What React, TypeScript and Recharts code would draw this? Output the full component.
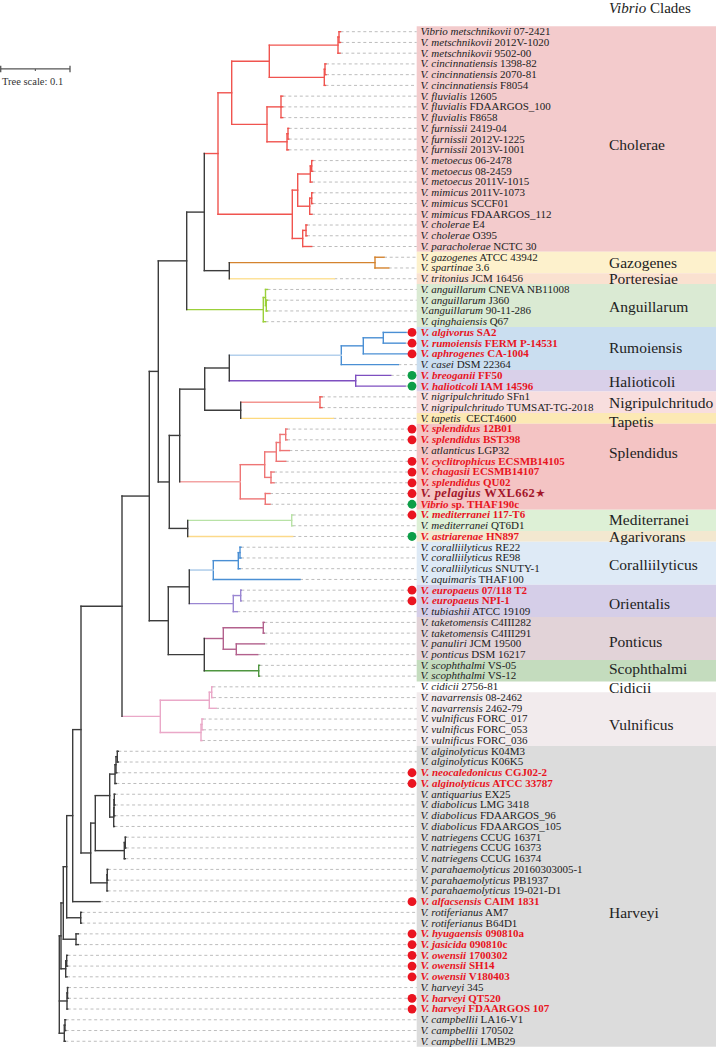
import React from 'react';
import { ComposedChart, XAxis, YAxis, ReferenceLine, ReferenceArea, Scatter } from 'recharts';

const FONT = "'Liberation Serif', 'Times New Roman', Times, serif";

// ---------- leaves (top to bottom) ----------
const LEAF_SPECIES = [
  'Vibrio metschnikovii', 'V. metschnikovii', 'V. metschnikovii', 'V. cincinnatiensis', 'V. cincinnatiensis',
  'V. cincinnatiensis', 'V. fluvialis', 'V. fluvialis', 'V. fluvialis', 'V. furnissii',
  'V. furnissii', 'V. furnissii', 'V. metoecus', 'V. metoecus', 'V. metoecus',
  'V. mimicus', 'V. mimicus', 'V. mimicus', 'V. cholerae', 'V. cholerae',
  'V. paracholerae', 'V. gazogenes', 'V. spartinae', 'V. tritonius', 'V. anguillarum',
  'V. anguillarum', 'V.anguillarum', 'V. qinghaiensis', 'V. algivorus', 'V. rumoiensis',
  'V. aphrogenes', 'V. casei', 'V. breoganii', 'V. halioticoli', 'V. nigripulchritudo',
  'V. nigripulchritudo', 'V. tapetis', 'V. splendidus', 'V. splendidus', 'V. atlanticus',
  'V. cyclitrophicus', 'V. chagasii', 'V. splendidus', 'V. pelagius', 'Vibrio',
  'V. mediterranei', 'V. mediterranei', 'V. astriarenae', 'V. coralliilyticus', 'V. coralliilyticus',
  'V. coralliilyticus', 'V. aquimaris', 'V. europaeus', 'V. europaeus', 'V. tubiashii',
  'V. taketomensis', 'V. taketomensis', 'V. panuliri', 'V. ponticus', 'V. scophthalmi',
  'V. scophthalmi', 'V. cidicii', 'V. navarrensis', 'V. navarrensis', 'V. vulnificus',
  'V. vulnificus', 'V. vulnificus', 'V. alginolyticus', 'V. alginolyticus', 'V. neocaledonicus',
  'V. alginolyticus', 'V. antiquarius', 'V. diabolicus', 'V. diabolicus', 'V. diabolicus',
  'V. natriegens', 'V. natriegens', 'V. natriegens', 'V. parahaemolyticus', 'V. parahaemolyticus',
  'V. parahaemolyticus', 'V. alfacsensis', 'V. rotiferianus', 'V. rotiferianus', 'V. hyugaensis',
  'V. jasicida', 'V. owensii', 'V. owensii', 'V. owensii', 'V. harveyi',
  'V. harveyi', 'V. harveyi', 'V. campbellii', 'V. campbellii', 'V. campbellii',
];
const LEAF_STRAINS = [
  '07-2421', '2012V-1020', '9502-00', '1398-82', '2070-81',
  'F8054', '12605', 'FDAARGOS_100', 'F8658', '2419-04',
  '2012V-1225', '2013V-1001', '06-2478', '08-2459', '2011V-1015',
  '2011V-1073', 'SCCF01', 'FDAARGOS_112', 'E4', 'O395',
  'NCTC 30', 'ATCC 43942', '3.6', 'JCM 16456', 'CNEVA NB11008',
  'J360', '90-11-286', 'Q67', 'SA2', 'FERM P-14531',
  'CA-1004', 'DSM 22364', 'FF50', 'IAM 14596', 'SFn1',
  'TUMSAT-TG-2018', ' CECT4600', '12B01', 'BST398', 'LGP32',
  'ECSMB14105', 'ECSMB14107', 'QU02', 'WXL662', 'sp. THAF190c',
  '117-T6', 'QT6D1', 'HN897', 'RE22', 'RE98',
  'SNUTY-1', 'THAF100', '07/118 T2', 'NPI-1', 'ATCC 19109',
  'C4III282', 'C4III291', 'JCM 19500', 'DSM 16217', 'VS-05',
  'VS-12', '2756-81', '08-2462', '2462-79', 'FORC_017',
  'FORC_053', 'FORC_036', 'K04M3', 'K06K5', 'CGJ02-2',
  'ATCC 33787', 'EX25', 'LMG 3418', 'FDAARGOS_96', 'FDAARGOS_105',
  'CCUG 16371', 'CCUG 16373', 'CCUG 16374', '20160303005-1', 'PB1937',
  '19-021-D1', 'CAIM 1831', 'AM7', 'B64D1', '090810a',
  '090810c', '1700302', 'SH14', 'V180403', '345',
  'QT520', 'FDAARGOS 107', 'LA16-V1', '170502', 'LMB29',
];
const RED_DOT_LEAVES = [28, 29, 30, 37, 38, 40, 41, 42, 43, 45, 52, 53, 69, 70, 81, 84, 85, 86, 87, 88, 90, 91];
const GREEN_DOT_LEAVES = [32, 33, 44, 47];
const STAR_LEAF = 43;

// ---------- clades ----------
const CLADE_NAMES = ['Cholerae', 'Gazogenes', 'Porteresiae', 'Anguillarum', 'Rumoiensis', 'Halioticoli',
  'Nigripulchritudo', 'Tapetis', 'Splendidus', 'Mediterranei', 'Agarivorans', 'Coralliilyticus',
  'Orientalis', 'Ponticus', 'Scophthalmi', 'Cidicii', 'Vulnificus', 'Harveyi'];
const CLADE_FIRST = [0, 21, 23, 24, 28, 32, 34, 36, 37, 45, 47, 48, 52, 55, 59, 61, 62, 67];
const CLADE_LAST = [20, 22, 23, 27, 31, 33, 35, 36, 44, 46, 47, 51, 54, 58, 60, 61, 66, 94];
const CLADE_LABEL_ROW = [10.55, 21.5, 23, 25.6, 29.45, 32.6, 34.5, 36.3, 39.2, 45.4, 47, 49.65, 53.3, 56.8, 59.35, 61.1, 64.55, 82.05];
const CLADE_FILLS = ['#f3cbcc', '#fdf1cc', '#fae1d0', '#daead3', '#cadef0', '#d9d0e9', '#f8dede', '#fce9b4',
  '#f4c4c4', '#ddf0d6', '#f3e8d0', '#deeaf6', '#d5cee8', '#e2d3d8', '#c4dcbe', 'none', '#f2ebed', '#dcdcdc'];

// ---------- branch colours ----------
const BACKBONE = '#3c3c3c';
const CHOL = '#f0544f';
const GAZO = '#d4832e';
const TRIT = '#fde29a';
const ANGU = '#9bd03a';
const RUMO = '#4a8fd4';
const RUMO_EDGE = '#b4d0ec';
const HALIO = '#7e4fc0';
const NIGRI = '#ee5a55';
const NIGRI_EDGE = '#f39590';
const TAPE = '#fdd97e';
const SPLE = '#ee7575';
const SPLE_EDGE = '#f3a3a3';
const MEDI = '#b8e2a6';
const AGAR = '#fcd98a';
const CORA = '#4a8fd4';
const CORA_EDGE = '#a9c9e8';
const ORIE = '#9a86d2';
const PONT = '#b3618d';
const SCOP = '#4f9640';
const VULN = '#eaa8c8';

// ---------- tree (node depth values, scale bar 0.1 = 69.3 units) ----------
type TreeNode = { d: number; leaf?: number; kids?: TreeNode[]; color?: string; edge?: string };
const L = (leaf: number, d: number, color?: string): TreeNode => ({ leaf, d, color });
const N = (d: number, kids: TreeNode[], color?: string, edge?: string): TreeNode => ({ d, kids, color, edge });

const TREE: TreeNode = N(59.3, [
  N(61, [
    N(63.3, [
      N(66.7, [
        N(72.7, [
          N(81, [
            N(122, [
              N(149.3, [
                N(158.3, [
                  N(186.7, [
                    N(204.3, [
                      N(218, [
                        N(231.7, [
                          N(269.3, [
                            N(338, [N(339, [L(0, 340.5), L(1, 340.5)]), L(2, 340)]),
                            N(324.3, [N(325, [L(3, 326), L(4, 326)]), L(5, 325.5)]),
                          ]),
                          N(267, [
                            N(281, [L(6, 282.7), L(7, 282.7), L(8, 282.7)]),
                            N(287, [N(288, [L(9, 288.7), L(10, 288.7)]), L(11, 288.5)]),
                          ]),
                        ]),
                        N(292.3, [
                          N(297.7, [
                            N(310.3, [N(311.7, [L(12, 312.7), L(13, 312.7)]), L(14, 312)]),
                            N(309.7, [N(311.7, [L(15, 312.7), L(16, 312.7)]), L(17, 312)]),
                          ]),
                          N(302.7, [N(306, [L(18, 307), L(19, 307)]), L(20, 311.7)]),
                        ]),
                      ], CHOL),
                      N(229.3, [
                        N(375, [L(21, 384), L(22, 388.7)], GAZO),
                        L(23, 334.3, TRIT),
                      ]),
                    ]),
                    N(263.3, [N(265.5, [L(24, 267.5), N(266.3, [L(25, 267.5), L(26, 267.5)])]), L(27, 265.5)], ANGU),
                  ]),
                  N(169.3, [
                    N(179.7, [
                      N(204.7, [
                        N(229.3, [
                          N(341.3, [N(363.3, [N(383.3, [L(28, 406), L(29, 405)]), L(30, 410)]), L(31, 398.3)], RUMO, RUMO_EDGE),
                          N(355.7, [L(32, 390.7), L(33, 405)], HALIO),
                        ]),
                        N(240.7, [
                          N(320, [L(34, 322), L(35, 322)], NIGRI, NIGRI_EDGE),
                          L(36, 333.3, TAPE),
                        ]),
                      ]),
                      N(240.3, [
                        N(264.7, [
                          N(276.3, [N(280, [N(285.7, [L(37, 287), L(38, 287)]), L(39, 289.3)]), L(40, 285.7)]),
                          N(271, [L(41, 274), L(42, 274)]),
                        ]),
                        N(265.3, [L(43, 270), L(44, 270)]),
                      ], SPLE, SPLE_EDGE),
                    ]),
                    N(187.7, [
                      N(291.7, [L(45, 292.7), L(46, 292.7)], MEDI),
                      L(47, 292.7, AGAR),
                    ]),
                  ]),
                ]),
                N(168.3, [
                  N(189.3, [
                    N(213.3, [N(238.3, [N(240, [L(48, 241), L(49, 241)]), L(50, 240)]), L(51, 300)], CORA, CORA_EDGE),
                    N(233.3, [N(240.7, [L(52, 241.3), L(53, 241.3)]), L(54, 237.3)], ORIE),
                  ]),
                  N(204.3, [
                    N(223.3, [N(263.3, [L(55, 264.3), L(56, 264.3)]), N(236.3, [L(57, 264.3), L(58, 257.7)])], PONT),
                    N(258.7, [L(59, 259.5), L(60, 259.5)], SCOP),
                  ]),
                ]),
              ]),
              N(160.3, [
                N(209.3, [N(211.7, [L(61, 212.5), L(62, 213)]), L(63, 216)]),
                N(201, [N(202, [L(64, 203), L(65, 203)]), L(66, 202)]),
              ], VULN),
            ]),
            N(90.7, [
              N(95.3, [
                N(109.7, [
                  N(115, [N(116, [N(117.3, [L(67, 118.3), L(68, 118.3)]), L(69, 116.8)]), L(70, 116.3)]),
                  N(113.7, [N(114, [N(114.3, [L(71, 115), L(72, 115)]), L(73, 114.8)]), L(74, 114.5)]),
                ]),
                N(124.3, [N(125.3, [L(75, 125.8), L(76, 125.8)]), L(77, 125.3)]),
              ]),
              N(107, [N(107.3, [L(78, 107.8), L(79, 107.8)]), L(80, 107.6)]),
            ]),
          ]),
          L(81, 100),
        ]),
        N(80.7, [L(82, 81.5), L(83, 81.5)]),
      ]),
      N(76, [L(84, 78.3), L(85, 78.3)]),
    ]),
    N(65.7, [N(66.7, [L(86, 67.5), L(87, 67.5)]), L(88, 67)]),
  ]),
  N(67, [N(67.5, [L(89, 68), L(90, 68)]), L(91, 67.7)]),
  N(64.3, [N(65, [L(92, 65.7), L(93, 65.7)]), L(94, 65.3)]),
], BACKBONE);

// scale bar
const SCALE_START = 0.7;
const SCALE_LENGTH = 69.3; // = 0.1
const SCALE_ROW = 3.47;

// ---------- layout from tree ----------
type Seg = { x1: number; y1: number; x2: number; y2: number; c: string };
const segs: Seg[] = [];
const tips: { i: number; d: number }[] = [];
function layout(n: TreeNode, inherited: string): number {
  const c = n.color ?? inherited;
  if (n.leaf !== undefined) {
    tips.push({ i: n.leaf, d: n.d });
    return n.leaf;
  }
  const ys = n.kids!.map((k) => {
    const ky = layout(k, c);
    const kc = k.edge ?? k.color ?? c;
    if (k.d !== n.d) segs.push({ x1: n.d, y1: ky, x2: k.d, y2: ky, c: kc });
    return ky;
  });
  const lo = Math.min(...ys);
  const hi = Math.max(...ys);
  segs.push({ x1: n.d, y1: lo, x2: n.d, y2: hi, c });
  return (lo + hi) / 2;
}
layout(TREE, BACKBONE);

const BOX_X1 = 416.7;
const BOX_X2 = 716;
const DOT_X = 412;
const LABEL_X = 420.5;
const CLADE_X = 609;

const redSet = new Set([...RED_DOT_LEAVES, ...GREEN_DOT_LEAVES]);

const leafData = LEAF_SPECIES.map((s, i) => ({ x: LABEL_X, y: i, i }));
const dotData = [
  ...RED_DOT_LEAVES.map((i) => ({ x: DOT_X, y: i, fill: '#ea1420' })),
  ...GREEN_DOT_LEAVES.map((i) => ({ x: DOT_X, y: i, fill: '#0d9e48' })),
];
const cladeData = CLADE_NAMES.map((name, k) => ({ x: CLADE_X, y: CLADE_LABEL_ROW[k], name }));
const headerData = [{ x: CLADE_X, y: -1.77 }];
const scaleTextData = [{ x: 2, y: 4.96 }];

const LeafLabel = (props: any) => {
  const { cx, cy, payload } = props;
  const i = payload.i as number;
  const red = redSet.has(i);
  const star = i === STAR_LEAF;
  const fs = star ? 12.5 : 11;
  const fill = star ? '#a3162a' : red ? '#e8141e' : '#222';
  return (
    <text x={cx} y={cy + (star ? 3.8 : 3.4)} fontFamily={FONT} fontSize={fs} fill={fill}
      fontWeight={red ? 'bold' : 'normal'} letterSpacing={star ? 0.4 : 0} style={{ whiteSpace: 'pre' }}>
      <tspan fontStyle="italic">{LEAF_SPECIES[i]}</tspan>
      <tspan>{' ' + LEAF_STRAINS[i]}</tspan>
      {star ? <tspan fill="#a3162a" fontFamily="DejaVu Sans" fontSize={11.5}>★</tspan> : null}
    </text>
  );
};

const CladeLabel = (props: any) => {
  const { cx, cy, payload } = props;
  return (
    <text x={cx} y={cy + 5.3} fontFamily={FONT} fontSize={15.5} fill="#222">{payload.name}</text>
  );
};

const Dot = (props: any) => {
  const { cx, cy, payload } = props;
  return <circle cx={cx} cy={cy} r={4.4} fill={payload.fill} />;
};

const Header = (props: any) => {
  const { cx, cy } = props;
  return (
    <text x={cx} y={cy} fontFamily={FONT} fontSize={15} fill="#222" style={{ whiteSpace: 'pre' }}>
      <tspan fontStyle="italic">Vibrio</tspan>
      <tspan> Clades</tspan>
    </text>
  );
};

const ScaleText = (props: any) => {
  const { cx, cy } = props;
  return <text x={cx} y={cy} fontFamily={FONT} fontSize={10.5} fill="#333">Tree scale: 0.1</text>;
};

export default function App() {
  return (
    <div style={{ position: 'absolute', left: 0, top: 0, width: 716, height: 1049, background: '#fff' }}>
      <ComposedChart width={716} height={1049} margin={{ top: 0, right: 0, bottom: 0, left: 0 }}>
        <XAxis type="number" dataKey="x" domain={[0, 716]} allowDataOverflow hide />
        <YAxis type="number" dataKey="y" domain={[-2.9516, 94.7207]} allowDataOverflow reversed hide />
        {CLADE_NAMES.map((n, k) =>
          CLADE_FILLS[k] === 'none' ? null : (
            <ReferenceArea key={'box' + k} x1={BOX_X1} x2={BOX_X2} y1={CLADE_FIRST[k] - 0.5} y2={CLADE_LAST[k] + 0.5}
              fill={CLADE_FILLS[k]} fillOpacity={1} stroke="none" ifOverflow="visible" />
          ),
        )}
        {tips.map((t) => (
          <ReferenceLine key={'lead' + t.i} segment={[{ x: t.d, y: t.i }, { x: BOX_X1, y: t.i }]}
            stroke="#bdbdbd" strokeWidth={1} strokeDasharray="3 2.7" ifOverflow="visible" />
        ))}
        {segs.map((s, k) => (
          <ReferenceLine key={'seg' + k} segment={[{ x: s.x1, y: s.y1 }, { x: s.x2, y: s.y2 }]}
            stroke={s.c} strokeWidth={1.4} strokeLinecap="square" ifOverflow="visible" />
        ))}
        <ReferenceLine segment={[{ x: SCALE_START, y: SCALE_ROW }, { x: SCALE_START + SCALE_LENGTH, y: SCALE_ROW }]}
          stroke="#555" strokeWidth={1.3} ifOverflow="visible" />
        <ReferenceLine segment={[{ x: SCALE_START, y: SCALE_ROW - 0.3 }, { x: SCALE_START, y: SCALE_ROW + 0.3 }]}
          stroke="#555" strokeWidth={1.3} ifOverflow="visible" />
        <ReferenceLine segment={[{ x: SCALE_START + SCALE_LENGTH, y: SCALE_ROW - 0.3 }, { x: SCALE_START + SCALE_LENGTH, y: SCALE_ROW + 0.3 }]}
          stroke="#555" strokeWidth={1.3} ifOverflow="visible" />
        <ReferenceLine segment={[{ x: SCALE_START + SCALE_LENGTH / 2, y: SCALE_ROW }, { x: SCALE_START + SCALE_LENGTH / 2, y: SCALE_ROW + 0.2 }]}
          stroke="#555" strokeWidth={1.1} ifOverflow="visible" />
        <Scatter data={dotData} shape={Dot} isAnimationActive={false} />
        <Scatter data={leafData} shape={LeafLabel} isAnimationActive={false} />
        <Scatter data={cladeData} shape={CladeLabel} isAnimationActive={false} />
        <Scatter data={headerData} shape={Header} isAnimationActive={false} />
        <Scatter data={scaleTextData} shape={ScaleText} isAnimationActive={false} />
      </ComposedChart>
    </div>
  );
}
